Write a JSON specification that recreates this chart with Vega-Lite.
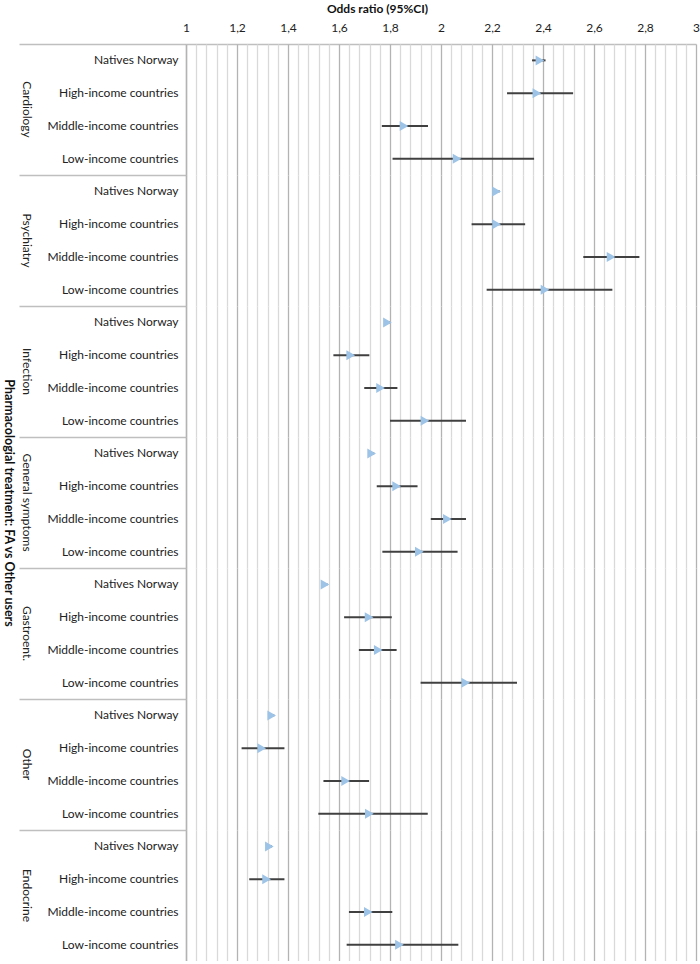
{
  "$schema": "https://vega.github.io/schema/vega-lite/v6.json",
  "padding": {"left": 1, "top": 2, "right": 4, "bottom": 0},
  "background": "white",
  "data": {"values": [
    {"group": "Cardiology", "cat": "Natives Norway", "or": 2.388, "lo": 2.357, "hi": 2.41},
    {"group": "Cardiology", "cat": "High-income countries", "or": 2.376, "lo": 2.259, "hi": 2.518},
    {"group": "Cardiology", "cat": "Middle-income countries", "or": 1.855, "lo": 1.768, "hi": 1.949},
    {"group": "Cardiology", "cat": "Low-income countries", "or": 2.063, "lo": 1.81, "hi": 2.365},
    {"group": "Psychiatry", "cat": "Natives Norway", "or": 2.218, "lo": 2.205, "hi": 2.23},
    {"group": "Psychiatry", "cat": "High-income countries", "or": 2.218, "lo": 2.12, "hi": 2.33},
    {"group": "Psychiatry", "cat": "Middle-income countries", "or": 2.667, "lo": 2.558, "hi": 2.778},
    {"group": "Psychiatry", "cat": "Low-income countries", "or": 2.408, "lo": 2.179, "hi": 2.672},
    {"group": "Infection", "cat": "Natives Norway", "or": 1.79, "lo": 1.778, "hi": 1.8},
    {"group": "Infection", "cat": "High-income countries", "or": 1.646, "lo": 1.578, "hi": 1.719},
    {"group": "Infection", "cat": "Middle-income countries", "or": 1.763, "lo": 1.699, "hi": 1.829},
    {"group": "Infection", "cat": "Low-income countries", "or": 1.937, "lo": 1.8, "hi": 2.098},
    {"group": "General symptoms", "cat": "Natives Norway", "or": 1.728, "lo": 1.716, "hi": 1.738},
    {"group": "General symptoms", "cat": "High-income countries", "or": 1.826, "lo": 1.748, "hi": 1.908},
    {"group": "General symptoms", "cat": "Middle-income countries", "or": 2.025, "lo": 1.96, "hi": 2.098},
    {"group": "General symptoms", "cat": "Low-income countries", "or": 1.915, "lo": 1.77, "hi": 2.065},
    {"group": "Gastroent.", "cat": "Natives Norway", "or": 1.545, "lo": 1.533, "hi": 1.555},
    {"group": "Gastroent.", "cat": "High-income countries", "or": 1.718, "lo": 1.62, "hi": 1.807},
    {"group": "Gastroent.", "cat": "Middle-income countries", "or": 1.754, "lo": 1.678, "hi": 1.826},
    {"group": "Gastroent.", "cat": "Low-income countries", "or": 2.097, "lo": 1.92, "hi": 2.298},
    {"group": "Other", "cat": "Natives Norway", "or": 1.336, "lo": 1.325, "hi": 1.346},
    {"group": "Other", "cat": "High-income countries", "or": 1.297, "lo": 1.218, "hi": 1.386},
    {"group": "Other", "cat": "Middle-income countries", "or": 1.626, "lo": 1.539, "hi": 1.718},
    {"group": "Other", "cat": "Low-income countries", "or": 1.719, "lo": 1.519, "hi": 1.948},
    {"group": "Endocrine", "cat": "Natives Norway", "or": 1.327, "lo": 1.316, "hi": 1.337},
    {"group": "Endocrine", "cat": "High-income countries", "or": 1.316, "lo": 1.248, "hi": 1.386},
    {"group": "Endocrine", "cat": "Middle-income countries", "or": 1.715, "lo": 1.639, "hi": 1.809},
    {"group": "Endocrine", "cat": "Low-income countries", "or": 1.837, "lo": 1.63, "hi": 2.068}
  ]},
  "facet": {
    "row": {
      "field": "group", "type": "nominal",
      "sort": ["Cardiology", "Psychiatry", "Infection", "General symptoms", "Gastroent.", "Other", "Endocrine"],
      "title": "Pharmacologial treatment: FA vs Other users",
      "header": {
        "labelAngle": 90, "labelOrient": "left", "labelFont": "Lato", "labelFontSize": 12,
        "labelColor": "#222222", "labelPadding": -26,
        "titleAngle": 90,
        "titleFont": "Lato", "titleFontSize": 12.5, "titleFontWeight": "bold", "titleColor": "#111111", "titlePadding": -19
      }
    }
  },
  "spacing": {"row": 0},
  "spec": {
    "width": 510,
    "height": 131,
    "layer": [
      {
        "mark": {"type": "rule", "color": "#404040", "strokeWidth": 2},
        "encoding": {
          "x": {
            "field": "lo", "type": "quantitative",
            "scale": {"domain": [1, 3], "nice": false, "zero": false},
            "axis": {
              "orient": "top",
              "title": "Odds ratio (95%CI)",
              "titleFont": "Lato", "titleFontSize": 12, "titleFontWeight": "bold", "titleColor": "#111111", "titlePadding": 6,
              "titleX": 191, "titleAlign": "center",
              "tickCount": 200,
              "values": [1, 1.04, 1.08, 1.12, 1.16, 1.2, 1.24, 1.28, 1.32, 1.36, 1.4, 1.44, 1.48, 1.52, 1.56, 1.6, 1.64, 1.68, 1.72, 1.76, 1.8, 1.84, 1.88, 1.92, 1.96, 2, 2.04, 2.08, 2.12, 2.16, 2.2, 2.24, 2.28, 2.32, 2.36, 2.4, 2.44, 2.48, 2.52, 2.56, 2.6, 2.64, 2.68, 2.72, 2.76, 2.8, 2.84, 2.88, 2.92, 2.96, 3],
              "labelExpr": "abs(datum.value * 5 - round(datum.value * 5)) < 0.001 ? replace(format(datum.value, '~r'), '.', ',') : ''",
              "labelOverlap": false, "labelFlush": false,
              "labelFont": "Lato", "labelFontSize": 12, "labelColor": "#222222", "labelPadding": 10,
              "ticks": false,
              "domain": true, "domainColor": "#bfbfbf", "domainWidth": 1.5,
              "grid": true, "gridWidth": 1.3,
              "gridColor": {"condition": {"test": "abs(datum.value * 5 - round(datum.value * 5)) < 0.001", "value": "#b3b3b3"}, "value": "#d9d9d9"}
            }
          },
          "x2": {"field": "hi"},
          "y": {
            "field": "cat", "type": "nominal",
            "sort": ["Natives Norway", "High-income countries", "Middle-income countries", "Low-income countries"],
            "scale": {"paddingInner": 0, "paddingOuter": 0},
            "axis": {
              "title": null,
              "domain": true, "domainColor": "#bfbfbf", "domainWidth": 1.5,
              "ticks": true, "tickSize": 167, "tickColor": "#bfbfbf", "tickWidth": 1.5,
              "tickOpacity": {"condition": {"test": "datum.value === 'Natives Norway'", "value": 1}, "value": 0},
              "bandPosition": 0,
              "labelPadding": -159,
              "labelFont": "Lato", "labelFontSize": 12, "labelColor": "#222222",
              "grid": false
            }
          }
        }
      },
      {
        "mark": {"type": "point", "shape": "triangle-right", "filled": true, "size": 100, "color": "#9dc3e6", "opacity": 1},
        "encoding": {
          "x": {"field": "or", "type": "quantitative"},
          "y": {"field": "cat", "type": "nominal", "sort": ["Natives Norway", "High-income countries", "Middle-income countries", "Low-income countries"]}
        }
      }
    ]
  },
  "config": {"view": {"stroke": null}, "font": "Lato"}
}
